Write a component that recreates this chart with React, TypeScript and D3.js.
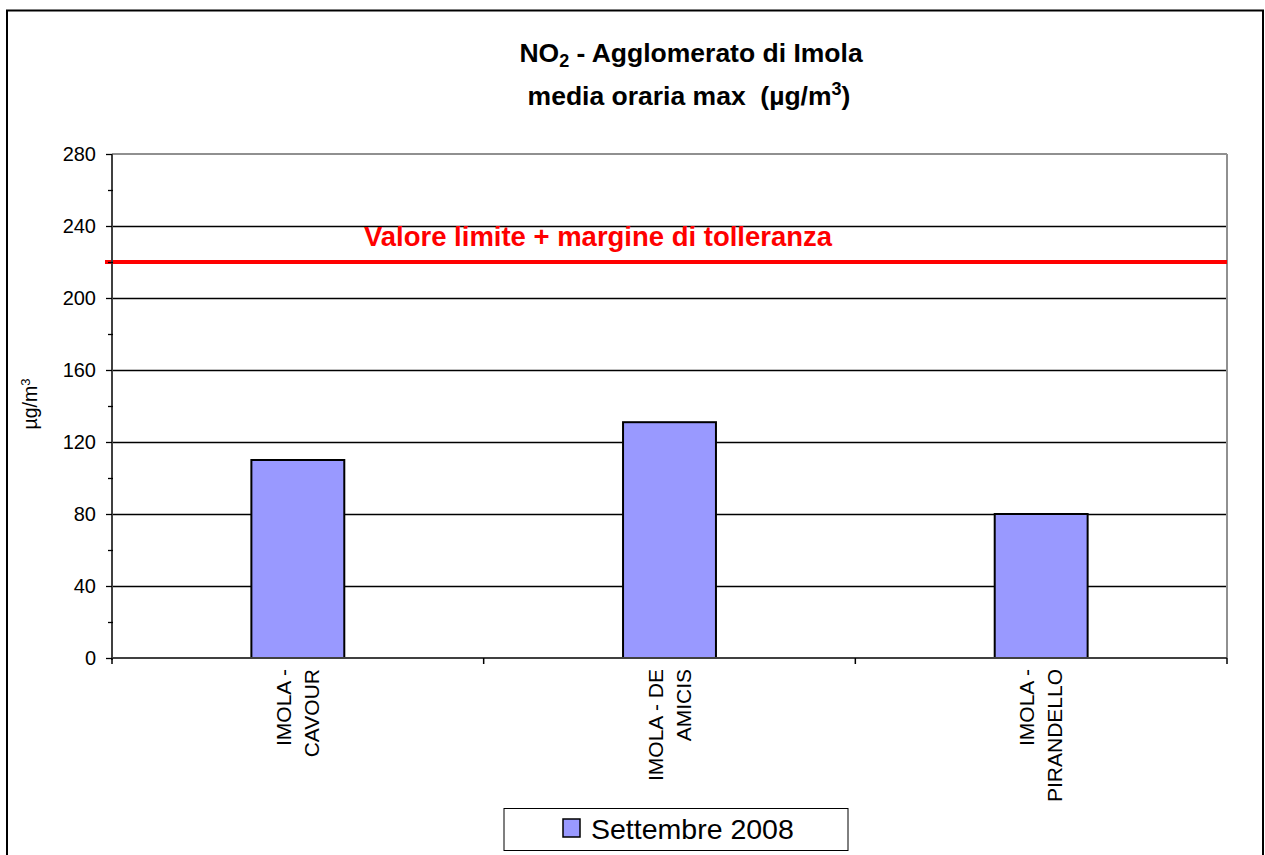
import React from 'react'
import * as d3 from 'd3'

const stations = [['IMOLA -', 'CAVOUR'], ['IMOLA - DE', 'AMICIS'], ['IMOLA -', 'PIRANDELLO']]
const values = [110, 131, 80]
const yTicks = [0, 40, 80, 120, 160, 200, 240, 280]
const limitValue = 220
const seriesName = 'Settembre 2008'

const W = 1265
const H = 855
const left = 112
const right = 1227
const top = 154
const bottom = 658
const font = "'Liberation Sans', Arial, sans-serif"

function App() {
    const x = d3.scaleBand<number>()
        .domain(values.map((_, i) => i))
        .range([left, right])
        .paddingInner(0.75)
        .paddingOuter(0.375)
    const y = d3.scaleLinear().domain([0, 280]).range([bottom, top])
    const step = x.step()
    const minor = d3.range(20, 280, 40)
    const catEdges = d3.range(values.length + 1).map(i => left + i * step)

    return (
        <svg width={W} height={H} style={{ position: 'absolute', left: 0, top: 0, background: '#fff' }} fontFamily={font}>
            <rect x={7} y={10.5} width={1256} height={900} fill="#fff" stroke="#000" strokeWidth={2} />
            <text x={691} y={62} textAnchor="middle" fontSize={26.5} fontWeight="bold">
                NO<tspan fontSize={18} dy={5}>2</tspan><tspan dy={-5}> - Agglomerato di Imola</tspan>
            </text>
            <text x={689} y={105} textAnchor="middle" fontSize={26.5} fontWeight="bold">
                {'media oraria max\u00a0 (µg/m'}<tspan fontSize={18} dy={-10}>3</tspan><tspan dy={10}>)</tspan>
            </text>

            {yTicks.slice(1, -1).map(t => (
                <line key={t} x1={left} x2={right} y1={y(t) + 0.5} y2={y(t) + 0.5} stroke="#000" strokeWidth={1.3} />
            ))}
            <line x1={left} x2={right} y1={top} y2={top} stroke="#909090" strokeWidth={2} />
            <line x1={right} x2={right} y1={top} y2={bottom} stroke="#909090" strokeWidth={2} />

            {values.map((v, i) => (
                <rect key={i} x={x(i)} y={y(v)} width={x.bandwidth()} height={y(0) - y(v)}
                    fill="#9999FF" stroke="#000" strokeWidth={2} />
            ))}

            <line x1={105} x2={right} y1={y(limitValue)} y2={y(limitValue)} stroke="#ff0000" strokeWidth={4} />
            <text x={364} y={246} fontSize={27.5} fontWeight="bold" fill="#ff0000" textLength={468} lengthAdjust="spacingAndGlyphs">Valore limite + margine di tolleranza</text>

            <line x1={left} x2={left} y1={top} y2={bottom + 2} stroke="#404040" strokeWidth={2} />
            <line x1={left} x2={right} y1={bottom} y2={bottom} stroke="#404040" strokeWidth={2} />
            {yTicks.map(t => (
                <g key={t}>
                    <line x1={106} x2={left} y1={y(t) + 0.5} y2={y(t) + 0.5} stroke="#000" strokeWidth={1.3} />
                    <text x={96} y={y(t) + 7} textAnchor="end" fontSize={20}>{t}</text>
                </g>
            ))}
            {minor.map(t => (
                <line key={t} x1={108} x2={left + 1} y1={y(t) + 0.5} y2={y(t) + 0.5} stroke="#000" strokeWidth={1.3} />
            ))}
            {catEdges.map((e, i) => (
                <line key={i} x1={e} x2={e} y1={bottom} y2={bottom + 6} stroke="#000" strokeWidth={1.5} />
            ))}

            {stations.map((lines, i) => {
                const cx = x(i)! + x.bandwidth() / 2
                return (
                    <text key={i} transform={`translate(${cx},669) rotate(-90)`} textAnchor="end" fontSize={21}>
                        {lines.map((l, j) => (
                            <tspan key={j} x={0} y={(j - (lines.length - 1) / 2) * 28 + 7}>{l}</tspan>
                        ))}
                    </text>
                )
            })}

            <text transform="translate(37,404) rotate(-90)" textAnchor="middle" fontSize={19.5}>
                µg/m<tspan fontSize={13} dy={-7}>3</tspan>
            </text>

            <rect x={504} y={808.5} width={344} height={42} fill="#fff" stroke="#000" strokeWidth={1} />
            <rect x={563} y={819} width={17} height={18} fill="#9999FF" stroke="#000" strokeWidth={1.5} />
            <text x={591} y={839} fontSize={28.5}>{seriesName}</text>
        </svg>
    )
}

export default App
